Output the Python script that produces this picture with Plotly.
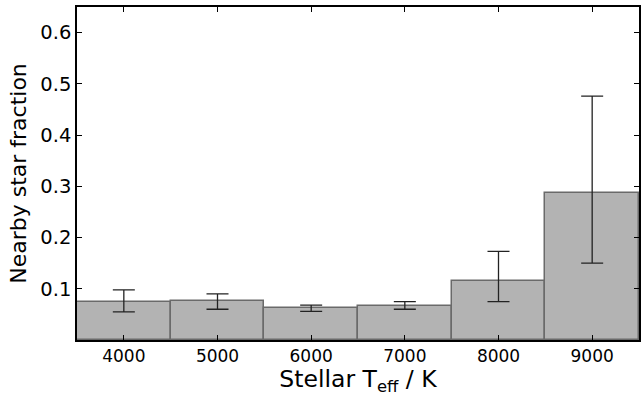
import plotly.graph_objects as go

temps = [4000, 5000, 6000, 7000, 8000, 9000]
fraction = [0.074, 0.076, 0.063, 0.067, 0.116, 0.286]
err_hi = [0.098, 0.090, 0.068, 0.075, 0.173, 0.476]
err_lo = [0.055, 0.060, 0.056, 0.060, 0.075, 0.150]

plus = [h - f for h, f in zip(err_hi, fraction)]
minus = [f - l for f, l in zip(fraction, err_lo)]

font = "DejaVu Sans"
fig = go.Figure()
fig.add_trace(go.Bar(
    x=temps, y=fraction, width=1000,
    marker=dict(color="#b3b3b3", line=dict(color="#6a6a6a", width=1.5)),
    error_y=dict(type="data", symmetric=False, array=plus, arrayminus=minus,
                 color="#222222", thickness=1.3, width=11),
    showlegend=False,
))
fig.update_layout(
    width=642, height=396,
    margin=dict(l=77, r=1, t=7, b=56),
    plot_bgcolor="white", paper_bgcolor="white",
    bargap=0,
    font=dict(family=font, color="black"),
)
fig.update_xaxes(
    range=[3500, 9500], tickvals=temps, ticktext=[str(t) for t in temps],
    ticks="inside", ticklen=5, tickcolor="black", mirror="allticks",
    showline=True, linecolor="black", linewidth=1.5, showgrid=False, zeroline=False,
    tickfont=dict(size=17, family=font),
    title=dict(text="Stellar T<sub>eff</sub> / K", font=dict(size=23.5, family=font), standoff=8),
)
fig.update_yaxes(
    range=[0, 0.65], tickvals=[0.1, 0.2, 0.3, 0.4, 0.5, 0.6],
    ticktext=["0.1", "0.2", "0.3", "0.4", "0.5", "0.6"],
    ticks="inside", ticklen=5, tickcolor="black", mirror="allticks",
    showline=True, linecolor="black", linewidth=1.5, showgrid=False, zeroline=False,
    tickfont=dict(size=19.5, family=font),
    title=dict(text="Nearby star fraction", font=dict(size=22, family=font), standoff=8),
)
fig.write_html("out.html")
